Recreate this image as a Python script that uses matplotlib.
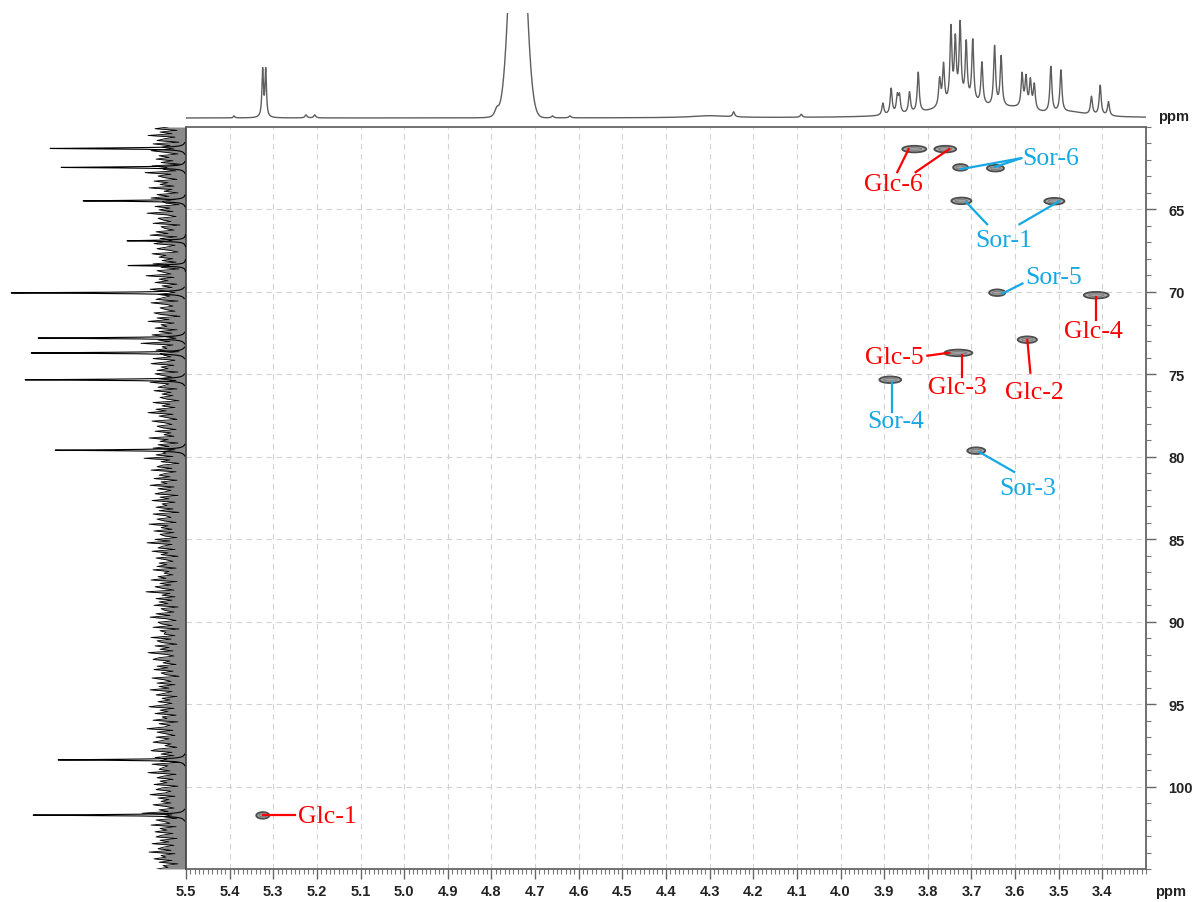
"""
HSQC spectrum of glucosyl-sorbitol with 1H (top) and 13C (left) projections.
"""

import numpy as np
import matplotlib.pyplot as plt
from matplotlib.patches import Ellipse
from matplotlib.ticker import MultipleLocator, FormatStrFormatter


# ── Data ───────────────────────────────────────────────────────────────────────

# 1H projection: sharp lines (ppm, height above baseline)
H1_PPM = [5.390, 5.3244, 5.3173, 5.225, 5.205, 4.660, 4.620, 4.245, 4.090,
          3.903, 3.884, 3.870, 3.865, 3.842, 3.822, 3.773, 3.764, 3.747, 3.737,
          3.726, 3.712, 3.697, 3.676, 3.647, 3.632, 3.584, 3.575, 3.565, 3.556,
          3.518, 3.495, 3.425, 3.405, 3.386]
H1_HEIGHT = [2, 47, 47, 3, 3, 2, 2, 5, 3,
             12, 26, 17, 17, 21, 40, 27, 40, 74, 60,
             76, 58, 62, 42, 60, 50, 33, 30, 28, 25,
             46, 42, 18, 30, 14]

# 1H projection: broad underlying humps (ppm, height, half width)
H1_BROAD_PPM = [3.720, 3.600, 3.470, 4.300, 4.788]
H1_BROAD_HEIGHT = [13, 6, 4, 2, 8]
H1_BROAD_HWHM = [0.075, 0.050, 0.040, 0.050, 0.006]

# residual water (HDO) line, gaussian shaped (ppm, height, sigma)
HDO_PPM, HDO_HEIGHT, HDO_SIGMA = 4.740, 300, 0.016

# 13C projection: lines (ppm, intensity)
C13_PPM = [61.30, 62.45, 64.48, 66.90, 68.40, 70.06, 72.80, 73.70, 75.33,
           79.60, 98.38, 101.73]
C13_HEIGHT = [136, 125, 103, 59, 58, 175, 148, 155, 161, 131, 128, 153]

C13_NOISE = [
    18, 31, 9, 26, 14, 38, 11, 22, 29, 7, 33, 16, 24, 12, 35, 20, 8, 27, 17, 30,
    13, 25, 6, 34, 19, 23, 10, 41, 15, 28, 21, 9, 32, 18, 26, 12, 37, 14, 22, 8,
    29, 17, 35, 11, 24, 20, 7, 31, 16, 27, 13, 39, 19, 10, 28, 23, 15, 33, 6, 25,
    21, 12, 30, 18, 36, 9, 26, 14, 22, 32, 11, 19, 29, 16, 8, 34, 20, 27, 13, 24,
    10, 33, 17, 25, 7, 29, 22, 15, 40, 12, 27, 18, 31, 9, 24, 14, 36, 21, 11, 28,
    16, 23, 30, 8, 35, 19, 13, 26, 20, 11, 32, 24, 6, 29, 17, 38, 12, 25, 19, 31,
    9, 27, 14, 34, 21, 10, 28, 16, 45, 13, 24, 19, 30, 7, 26, 22, 15, 33, 11, 20,
    35, 12, 25, 18, 29, 8, 31, 23, 14, 27, 10, 36, 17, 22, 28, 9, 32, 15, 24, 13,
    26, 19, 7, 33, 16, 24, 11, 30, 20, 38, 13, 27, 18, 9, 34, 21, 14, 29, 23, 10,
    31, 15, 22, 12, 37, 18, 26, 8, 28, 17, 33, 11, 24, 20, 30, 13, 42, 16, 25, 7,
    23, 29, 14, 35, 10, 21, 27, 16, 32, 9, 25, 19, 36, 12, 28, 15, 22, 31, 8, 26,
    17, 34, 11, 24, 19, 30, 13, 27, 7, 33, 20, 15, 29, 22, 10, 37, 18, 25, 14, 32,
    12, 26, 21, 9, 31, 16, 39, 14, 23, 28, 11, 34, 18, 25, 8, 30, 20, 13, 27, 19,
    29, 10, 33, 17, 22, 13, 28, 20, 35, 9, 26, 15, 31, 23, 12, 40, 16, 24, 11, 30,
    14, 27, 18, 32, 8, 25, 21, 12, 30, 16, 36, 19, 10, 28, 24, 14, 33, 7, 26, 20,
    22, 11, 35, 15, 29, 24, 9, 31, 17, 26, 13, 38, 20, 12, 27, 33, 16, 23, 10, 29,
    18, 32, 13, 25, 20, 7, 34, 22, 15, 29, 11, 27, 17, 36, 14, 21, 30, 9, 24, 16,
    28, 14, 23, 37, 12, 26, 18, 31, 10, 24, 19, 33, 8, 27, 16, 22, 39, 13, 29, 20,
    11, 30, 17, 24, 33, 15, 21, 9, 28, 35, 14, 25, 12, 31, 19, 26, 7, 34, 18, 23,
    27, 16, 38, 10, 22, 29, 13, 26, 19, 32, 8, 24, 30, 15, 21, 36, 11, 28, 17, 25,
    15, 33, 20, 12, 27, 18, 44, 14, 23, 9, 30, 21, 16, 35, 10, 26, 19, 31, 13, 24,
    30, 9, 26, 17, 34, 12, 22, 28, 15, 37, 11, 25, 20, 32, 14, 27, 8, 23, 18, 29,
]

# HSQC cross peaks: 1H ppm, 13C ppm, 1H extent (ppm)
XPK_H = [3.831, 3.760, 3.725, 3.645, 3.723, 3.510, 3.641, 3.414, 3.572,
         3.730, 3.886, 3.689, 5.324]
XPK_C = [61.34, 61.34, 62.45, 62.50, 64.48, 64.50, 70.05, 70.20, 72.90,
         73.70, 75.33, 79.63, 101.75]
XPK_WIDTH = [0.055, 0.050, 0.034, 0.039, 0.046, 0.046, 0.037, 0.057, 0.044,
             0.064, 0.050, 0.041, 0.030]

# assignments
LABELS = ["Glc-6", "Sor-6", "Sor-1", "Sor-5", "Glc-4", "Glc-2", "Glc-3",
          "Glc-5", "Sor-4", "Sor-3", "Glc-1"]


# ── Label layout: text centre and leader segments (1H, 13C) ────────────────────

LABEL_LAYOUT = {
    "Glc-6": ((3.879, 63.45), [((3.870, 62.74), (3.844, 61.34)),
                               ((3.828, 62.74), (3.751, 61.34))]),
    "Sor-6": ((3.519, 61.85), [((3.586, 61.89), (3.723, 62.55)),
                               ((3.586, 61.89), (3.647, 62.43))]),
    "Sor-1": ((3.625, 66.85), [((3.664, 65.90), (3.712, 64.56)),
                               ((3.590, 65.90), (3.499, 64.50))]),
    "Sor-5": ((3.512, 69.10), [((3.583, 69.49), (3.629, 70.10))]),
    "Glc-4": ((3.421, 72.40), [((3.414, 70.28), (3.414, 71.68))]),
    "Glc-2": ((3.556, 76.05), [((3.572, 72.90), (3.565, 74.90))]),
    "Glc-3": ((3.732, 75.75), [((3.721, 73.81), (3.721, 75.15))]),
    "Glc-5": ((3.876, 73.95), [((3.801, 73.87), (3.751, 73.69))]),
    "Sor-4": ((3.874, 77.82), [((3.883, 75.45), (3.883, 77.27))]),
    "Sor-3": ((3.572, 81.90), [((3.682, 79.71), (3.602, 80.92))]),
    "Glc-1": ((5.244, 101.78), [((5.324, 101.73), (5.250, 101.73))]),
}

GLC_COLOR = "#ff0000"
SOR_COLOR = "#15a8e4"

FIG_W, FIG_H = 1193, 903
FRAME = (186, 128, 1146, 870)       # left, top, right, bottom in pixels
X_RANGE = (5.5, 3.30)
Y_RANGE = (105, 60)


def _lorentz(x, x0, h, w):
    return h * w ** 2 / (w ** 2 + (x - x0) ** 2)


def _rect(x0, y0, x1, y1):
    return [x0 / FIG_W, 1 - y1 / FIG_H, (x1 - x0) / FIG_W, (y1 - y0) / FIG_H]


plt.rcParams["font.family"] = "Liberation Sans"
plt.rcParams["font.weight"] = "bold"

fig = plt.figure(figsize=(FIG_W / 100, FIG_H / 100), dpi=100)
L, T, R, B = FRAME

ax = fig.add_axes(_rect(L, T, R, B))
ax_top = fig.add_axes(_rect(L, 14, R, T))
ax_left = fig.add_axes(_rect(0, T, L, B))

# ── Top: 1H projection ─────────────────────────────────────────────────────────
h_axis = np.linspace(X_RANGE[0], X_RANGE[1], 6000)
h_spec = np.zeros_like(h_axis)
for p, h in zip(H1_PPM, H1_HEIGHT):
    w = 0.0020 if p > 5.3 else 0.0027
    h_spec += _lorentz(h_axis, p, h, w)
for p, h, w in zip(H1_BROAD_PPM, H1_BROAD_HEIGHT, H1_BROAD_HWHM):
    h_spec += _lorentz(h_axis, p, h, w)
h_spec += HDO_HEIGHT * np.exp(-0.5 * ((h_axis - HDO_PPM) / HDO_SIGMA) ** 2)

ax_top.plot(h_axis, h_spec, color="#5e5e5e", lw=1.0)
ax_top.set_xlim(*X_RANGE)
ax_top.set_ylim(-9, 105)
ax_top.axis("off")

# ── Left: 13C projection ───────────────────────────────────────────────────────
noise_ppm = np.linspace(60, 105, len(C13_NOISE))
ax_left.fill_betweenx(noise_ppm, 0, C13_NOISE, color="#2a2a2a", alpha=0.55,
                      lw=0)
ax_left.plot(C13_NOISE, noise_ppm, color="black", lw=0.6)

# each carbon line drawn over its own short window
for p, h in zip(C13_PPM, C13_HEIGHT):
    win = np.linspace(p - 0.35, p + 0.35, 300)
    ax_left.plot(_lorentz(win, p, h, 0.035), win, color="black", lw=0.8)
ax_left.set_xlim(186, 0)
ax_left.set_ylim(*Y_RANGE)
ax_left.axis("off")

# ── Main: HSQC cross peaks ─────────────────────────────────────────────────────
for hp, cp, wd in zip(XPK_H, XPK_C, XPK_WIDTH):
    ax.add_patch(Ellipse((hp, cp), wd, 0.40, facecolor="#a8a8a8",
                         edgecolor="#4d4d4d", lw=1.3, zorder=3))
    ax.add_patch(Ellipse((hp, cp), wd * 0.6, 0.16, facecolor="none",
                         edgecolor="#808080", lw=0.8, zorder=3))

for name in LABELS:
    color = GLC_COLOR if name.startswith("Glc") else SOR_COLOR
    (tx, ty), segs = LABEL_LAYOUT[name]
    for (x0, y0), (x1, y1) in segs:
        ax.plot([x0, x1], [y0, y1], color=color, lw=1.6, zorder=4)
    ha = "left" if name == "Glc-1" else "center"
    ax.text(tx, ty, name, color=color, fontsize=18.5, ha=ha, va="center",
            family="Liberation Serif", weight="normal", zorder=5)

ax.set_xlim(*X_RANGE)
ax.set_ylim(*Y_RANGE)
ax.xaxis.set_minor_locator(MultipleLocator(0.01))
ax.xaxis.set_major_formatter(FormatStrFormatter("%.1f"))
ax.yaxis.set_minor_locator(MultipleLocator(1))
ax.yaxis.tick_right()
ax.set_xticks(np.round(np.arange(3.4, 5.51, 0.1), 1))
ax.set_yticks(np.arange(65, 101, 5))

ax.tick_params(which="major", direction="out", length=7, width=1,
               color="#666666", labelsize=10.5, labelcolor="#222222")
ax.tick_params(which="minor", direction="out", length=3.5, width=0.8,
               color="#777777")
ax.tick_params(axis="x", which="major", pad=4)
ax.tick_params(axis="y", which="major", pad=9)
for s in ax.spines.values():
    s.set_color("#666666")
    s.set_linewidth(1.3)

ax.grid(True, which="major", color="#d2d2d2", lw=0.8, ls=(0, (5, 4)))
ax.set_axisbelow(True)

fig.text(1174 / FIG_W, 1 - 117 / FIG_H, "ppm", ha="center", va="center",
         fontsize=10.5, color="#222222")
fig.text(1171 / FIG_W, 1 - 892 / FIG_H, "ppm", ha="center", va="center",
         fontsize=10.5, color="#222222")

fig.savefig("out.png", dpi=100)
